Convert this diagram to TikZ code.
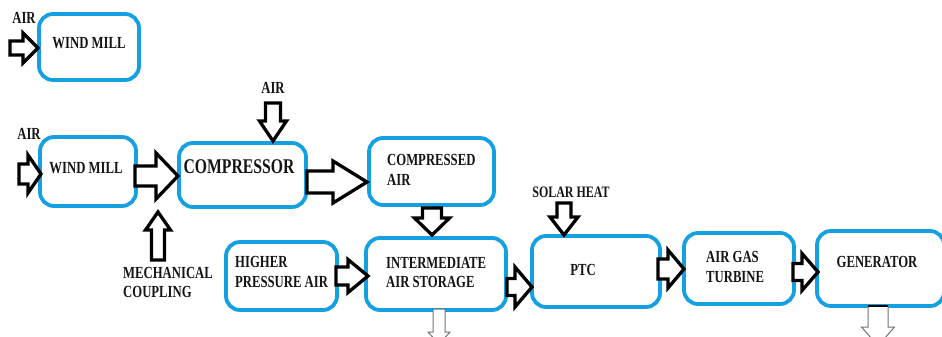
\documentclass[tikz,border=0pt]{standalone}
\usepackage{fontspec}
\newfontfamily\lbl{Liberation Serif}[FakeStretch=0.75]
\definecolor{boxblue}{RGB}{20,160,225}
\definecolor{txt}{RGB}{20,20,20}
\newcommand\barrow[7]{%
  \draw[#7, shift={(#1)}, rotate=#2]
    (0,-#4) -- (#3-#6,-#4) -- (#3-#6,-#5) -- (#3,0) -- (#3-#6,#5) -- (#3-#6,#4) -- (0,#4) -- cycle;}
\begin{document}
\begin{tikzpicture}[x=1bp,y=-1bp,
  box/.style={draw=boxblue, line width=3.8bp, rounded corners=14bp, rectangle, inner sep=0pt},
  lab/.style={font=\lbl\bfseries\fontsize{17}{20}\selectfont, text=txt, inner sep=0pt, align=left},
  blk/.style={draw=black, fill=white, line width=3.3bp, line join=miter},
  wht/.style={draw=black!55, fill=white, line width=1bp}]
\useasboundingbox (0,0) rectangle (942,336);
\clip (0,0) rectangle (942,336);
% boxes
\node[box, minimum width=100bp, minimum height=66bp] (wm1) at (89,47) {};
\node[box, minimum width=96bp, minimum height=69bp] (wm2) at (88,171.5) {};
\node[box, minimum width=127bp, minimum height=64bp] (comp) at (242.5,175) {};
\node[box, minimum width=125bp, minimum height=67bp] (ca) at (431.5,171.5) {};
\node[box, minimum width=111bp, minimum height=68bp] (hpa) at (281.5,276) {};
\node[box, minimum width=140bp, minimum height=72bp] (ias) at (436,274) {};
\node[box, minimum width=128bp, minimum height=71bp] (ptc) at (596,271.5) {};
\node[box, minimum width=110bp, minimum height=71bp] (agt) at (739,268.5) {};
\node[box, minimum width=127bp, minimum height=75bp] (gen) at (880.5,268.5) {};
% texts
\node[lab] (air1) at (24,18) {AIR};
\node[lab] (t-wm1) at (89,43.5) {WIND MILL};
\node[lab] (air2) at (29,134) {AIR};
\node[lab] (t-wm2) at (86,168) {WIND MILL};
\node[lab] (air3) at (273,88) {AIR};
\node[lab, font=\lbl\bfseries\fontsize{21}{24}\selectfont] (t-comp) at (239,167) {COMPRESSOR};
\node[lab, anchor=west] (t-ca) at (387,170) {COMPRESSED\\AIR};
\node[lab, anchor=west] (t-mech) at (123,282.5) {MECHANICAL\\COUPLING};
\node[lab, anchor=west] (t-hpa) at (235,272) {HIGHER\\PRESSURE AIR};
\node[lab, anchor=west] (t-ias) at (386,272.5) {INTERMEDIATE\\AIR STORAGE};
\node[lab, font=\lbl\bfseries\fontsize{16}{19}\selectfont] (t-sol) at (571,192) {SOLAR HEAT};
\node[lab] (t-ptc) at (583,270) {PTC};
\node[lab, anchor=west] (t-agt) at (706,267) {AIR GAS\\TURBINE};
\node[lab] (t-gen) at (877,262) {GENERATOR};
% block arrows
\barrow{10,48}{0}{28}{7}{15}{15}{blk}
\barrow{19,174}{0}{22}{10}{19}{13}{blk}
\barrow{135,176}{0}{43}{10}{23}{22}{blk}
\barrow{273,103}{-90}{38}{7.5}{13.5}{20}{blk}
\barrow{307,182}{0}{60}{11}{21}{34}{blk}
\barrow{432,208}{-90}{27}{9.5}{17.5}{17}{blk}
\barrow{158,260}{90}{48}{6.5}{12.5}{18}{blk}
\barrow{336,276}{0}{32}{9}{16.5}{20}{blk}
\barrow{507,287}{0}{25}{8.5}{20}{17}{blk}
\barrow{564,203}{-90}{32}{7}{14}{18}{blk}
\barrow{658,269}{0}{26}{10}{19}{16}{blk}
\barrow{793,272}{0}{25}{8.5}{18.5}{16}{blk}
% outgoing white arrows
\barrow{439,309}{-90}{35}{6}{11}{12}{wht}
\barrow{878,306}{-90}{40}{10}{16.5}{19}{wht}
\draw[black, line width=2.5bp] (868,306) -- (888,306);
\end{tikzpicture}
\end{document}
